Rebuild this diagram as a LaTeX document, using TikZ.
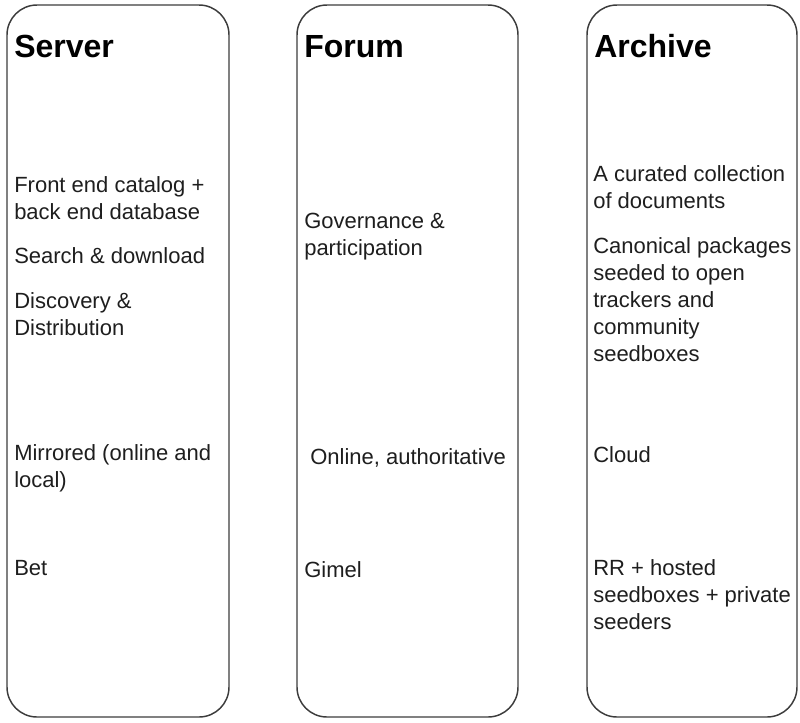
\documentclass[tikz,border=0pt]{standalone}
\usepackage{fontspec}
\setmainfont{Liberation Sans}
\usepackage{xcolor}

\definecolor{laneline}{HTML}{3C3C3C}
\definecolor{entryink}{HTML}{1E1E1E}

\tikzset{
  lane/.style={draw=laneline, line width=1.1pt, rounded corners=22.5pt},
  heading/.style={anchor=base west, inner sep=0pt, font=\fontsize{24}{28}\selectfont\bfseries},
  % multi-line entries sit on the baseline of their last line
  entry/.style={anchor=base west, inner sep=0pt, align=left, text=entryink,
                font=\fontsize{16.5}{20.25}\selectfont}
}

\begin{document}
\begin{tikzpicture}[x=0.75pt, y=-0.75pt]
  \useasboundingbox (0,0) rectangle (800,722);

  % the three lanes
  \draw[lane] (7,5) rectangle (229,717);
  \draw[lane] (297,5) rectangle (518,717);
  \draw[lane] (587,5) rectangle (797,717);

  % Server
  \node[heading] (srvhead) at (14,57) {Server};
  \node[entry] (srvcat) at (14,219) {Front end catalog +\\back end database};
  \node[entry] (srvsearch) at (14,263) {Search \& download};
  \node[entry] (srvdisc) at (14,335) {Discovery \&\\Distribution};
  \node[entry] (srvmirror) at (14,487) {Mirrored (online and\\local)};
  \node[entry] (srvbet) at (14,575) {Bet};

  % Forum
  \node[heading] (forhead) at (304,57) {Forum};
  \node[entry] (forgov) at (304,255) {Governance \&\\participation};
  \node[entry] (foronline) at (310,464) {Online, authoritative};
  \node[entry] (forgimel) at (304,577) {Gimel};

  % Archive
  \node[heading] (archead) at (594,57) {Archive};
  \node[entry] (arccoll) at (593,208) {A curated collection\\of documents};
  \node[entry] (arcseed) at (593,361) {Canonical packages\\seeded to open\\trackers and\\community\\seedboxes};
  \node[entry] (arccloud) at (593,462) {Cloud};
  \node[entry] (arcrr) at (593,629) {RR + hosted\\seedboxes + private\\seeders};
\end{tikzpicture}
\end{document}
